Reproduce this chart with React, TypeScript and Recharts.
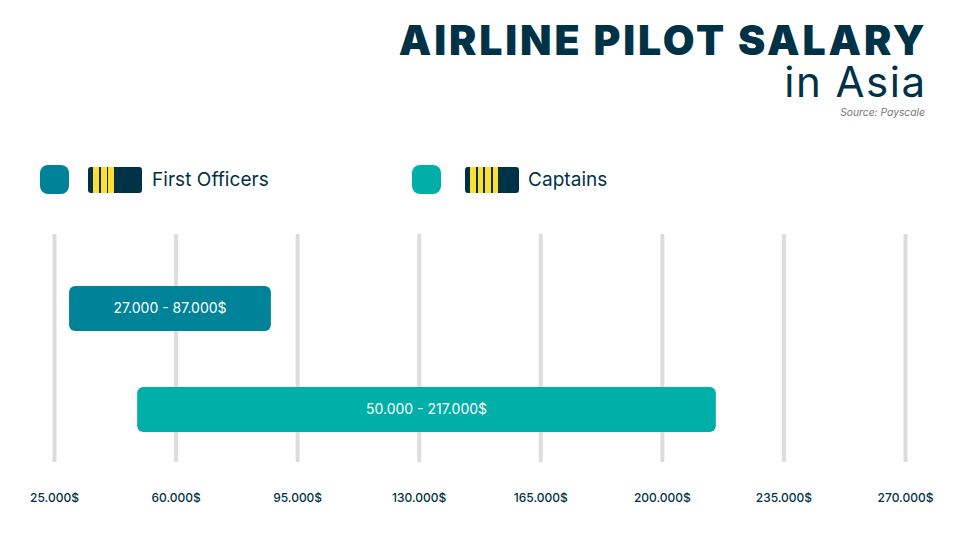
import { Bar, BarChart, CartesianGrid, Cell, LabelList, XAxis, YAxis } from "recharts";

const categories = ["First Officers", "Captains"];
const lowValues = [29200, 48800];
const highValues = [87300, 215400];
const rangeLabels = ["27.000 - 87.000$", "50.000 - 217.000$"];
const barColors = ["#008299", "#00AFA8"];
const xTicks = [25000, 60000, 95000, 130000, 165000, 200000, 235000, 270000];

const DARK = "#003247";
const YELLOW = "#FFDD33";
const FONT = "Inter, sans-serif";

const data = categories.map((name, i) => ({
  name,
  range: [lowValues[i], highValues[i]],
  label: rangeLabels[i],
}));

const formatTick = (v: number) => `${v / 1000}.000$`;

function Epaulette({ left, yellowFrom, yellowTo, dividers }: { left: number; yellowFrom: number; yellowTo: number; dividers: number[] }) {
  return (
    <div style={{ position: "absolute", left, top: 167, width: 54, height: 26, background: DARK, borderRadius: 3 }}>
      <div style={{ position: "absolute", left: yellowFrom - left, width: yellowTo - yellowFrom, top: 0, bottom: 0, background: YELLOW }} />
      {dividers.map((d) => (
        <div key={d} style={{ position: "absolute", left: d - left, width: 1.5, top: 0, bottom: 0, background: DARK }} />
      ))}
    </div>
  );
}

function LegendItem({ swatchLeft, color, text, textLeft }: { swatchLeft: number; color: string; text: string; textLeft: number }) {
  return (
    <>
      <div style={{ position: "absolute", left: swatchLeft, top: 165, width: 29, height: 29, borderRadius: 8, background: color }} />
      <div style={{ position: "absolute", left: textLeft, top: 167, lineHeight: "26px", fontSize: 19, letterSpacing: 0.05, color: DARK, fontFamily: FONT, whiteSpace: "nowrap" }}>
        {text}
      </div>
    </>
  );
}

export default function App() {
  return (
    <div style={{ position: "absolute", left: 0, top: 0, width: 965, height: 545, background: "#fff", overflow: "hidden" }}>
      <BarChart
        width={965}
        height={545}
        data={data}
        layout="vertical"
        margin={{ top: 234, right: 59.5, bottom: 0, left: 54.5 }}
      >
        <CartesianGrid horizontal={false} stroke="#DDDDDD" strokeWidth={4} />
        <XAxis
          type="number"
          domain={[25000, 270000]}
          ticks={xTicks}
          interval={0}
          tickFormatter={formatTick}
          axisLine={false}
          tickLine={false}
          height={83}
          tickMargin={25}
          tick={{ fontSize: 12, fill: DARK, fontFamily: FONT, fontWeight: 500 }}
        />
        <YAxis type="category" dataKey="name" hide width={0} padding={{ top: 24, bottom: 2 }} />
        <Bar dataKey="range" barSize={45} radius={6} isAnimationActive={false}>
          {data.map((d, i) => (
            <Cell key={d.name} fill={barColors[i]} />
          ))}
          <LabelList dataKey="label" position="center" fill="#fff" fontSize={14} fontFamily={FONT} />
        </Bar>
      </BarChart>

      <div style={{ position: "absolute", right: 37.5, top: 22, fontFamily: FONT, fontWeight: 900, fontSize: 41, letterSpacing: 2.85, lineHeight: "36px", color: DARK, whiteSpace: "nowrap" }}>
        AIRLINE PILOT SALARY
      </div>
      <div style={{ position: "absolute", right: 38.5, top: 63, fontFamily: FONT, fontWeight: 400, fontSize: 42, letterSpacing: 1.5, lineHeight: "38px", color: DARK, whiteSpace: "nowrap" }}>
        in Asia
      </div>
      <div style={{ position: "absolute", right: 40, top: 106, fontFamily: FONT, fontStyle: "italic", fontSize: 10.3, lineHeight: "12px", color: "#777", whiteSpace: "nowrap" }}>
        Source: Payscale
      </div>

      <LegendItem swatchLeft={40} color={barColors[0]} text={categories[0]} textLeft={152} />
      <Epaulette left={88} yellowFrom={93} yellowTo={114} dividers={[99, 106.5]} />
      <LegendItem swatchLeft={412} color={barColors[1]} text={categories[1]} textLeft={528} />
      <Epaulette left={465} yellowFrom={470} yellowTo={498} dividers={[476, 483, 491]} />
    </div>
  );
}
